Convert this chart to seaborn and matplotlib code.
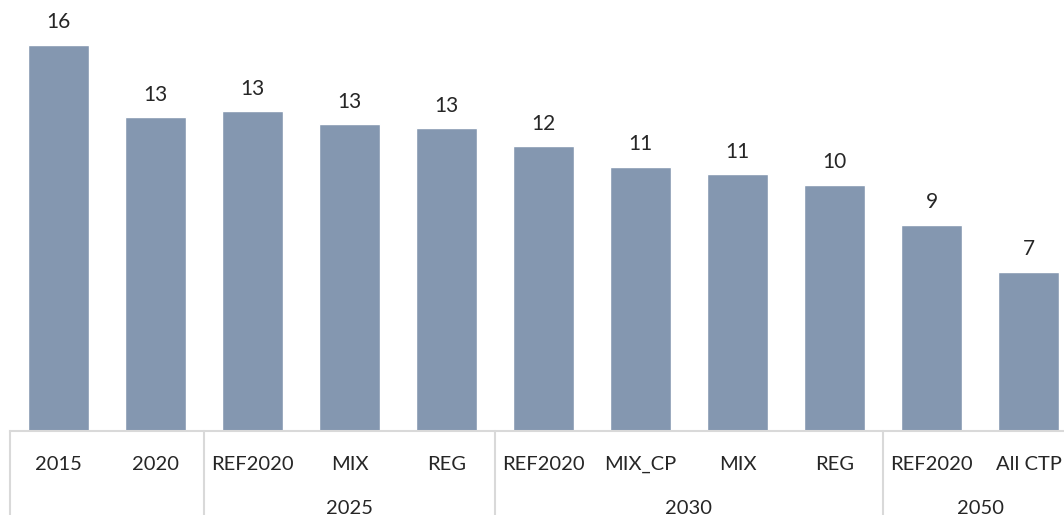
import matplotlib
matplotlib.use("Agg")
import matplotlib.pyplot as plt
import matplotlib.transforms as mtransforms
import pandas as pd
import seaborn as sns

# chart data
groups = ["", "", "2025", "2025", "2025", "2030", "2030", "2030", "2030", "2050", "2050"]
scenarios = ["2015", "2020", "REF2020", "MIX", "REG",
             "REF2020", "MIX_CP", "MIX", "REG", "REF2020", "All CTP"]
values = [16.0, 13.0, 13.25, 12.7, 12.55, 11.8, 10.95, 10.65, 10.2, 8.55, 6.6]
group_labels = ["2025", "2030", "2050"]

BAR_COLOR = "#8497B0"
GRID_COLOR = "#D9D9D9"
TEXT_COLOR = "#262626"

sns.set_theme(style="white")
plt.rcParams["font.family"] = ["Lato", "DejaVu Sans"]

df = pd.DataFrame({
    "key": [f"{g}|{s}" for g, s in zip(groups, scenarios)],
    "scenario": scenarios,
    "group": groups,
    "value": values,
})

fig = plt.figure(figsize=(10.64, 5.15), dpi=100)
# axes extends past the right edge, like the cropped original
ax = fig.add_axes([10 / 1064, 84 / 515, 1067 / 1064, 431 / 515])

sns.barplot(data=df, x="key", y="value", color=BAR_COLOR, width=0.62,
            saturation=1, ax=ax)

ax.set_xlim(-0.5, len(values) - 0.5)
ax.set_ylim(0, 17.85)
ax.set_xlabel("")
ax.set_ylabel("")
ax.set_yticks([])
ax.set_xticks([])
sns.despine(ax=ax, left=True, top=True, right=True)
ax.spines["bottom"].set_color(GRID_COLOR)
ax.spines["bottom"].set_linewidth(1.5)

# value labels above bars
for i, v in enumerate(values):
    ax.annotate(f"{v:.0f}", (i, v), xytext=(0, 16), textcoords="offset points",
                ha="center", va="center", fontsize=15, color=TEXT_COLOR)

trans = mtransforms.blended_transform_factory(ax.transData, ax.transAxes)

# first level category labels
for i, s in enumerate(scenarios):
    ax.text(i, -0.077, s, transform=trans, ha="center", va="center",
            fontsize=14.5, color=TEXT_COLOR)

# second level group labels
for g in group_labels:
    idx = [i for i, gg in enumerate(groups) if gg == g]
    mid = (idx[0] + idx[-1]) / 2
    ax.text(mid, -0.18, g, transform=trans, ha="center", va="center",
            fontsize=14.5, color=TEXT_COLOR)

# separators of the multi-level axis
for xs in [-0.5, 1.5, 4.5, 8.5, 10.5]:
    ax.plot([xs, xs], [0, -0.2], transform=trans, color=GRID_COLOR,
            lw=1.5, clip_on=False)

fig.savefig("out.png", dpi=100)
